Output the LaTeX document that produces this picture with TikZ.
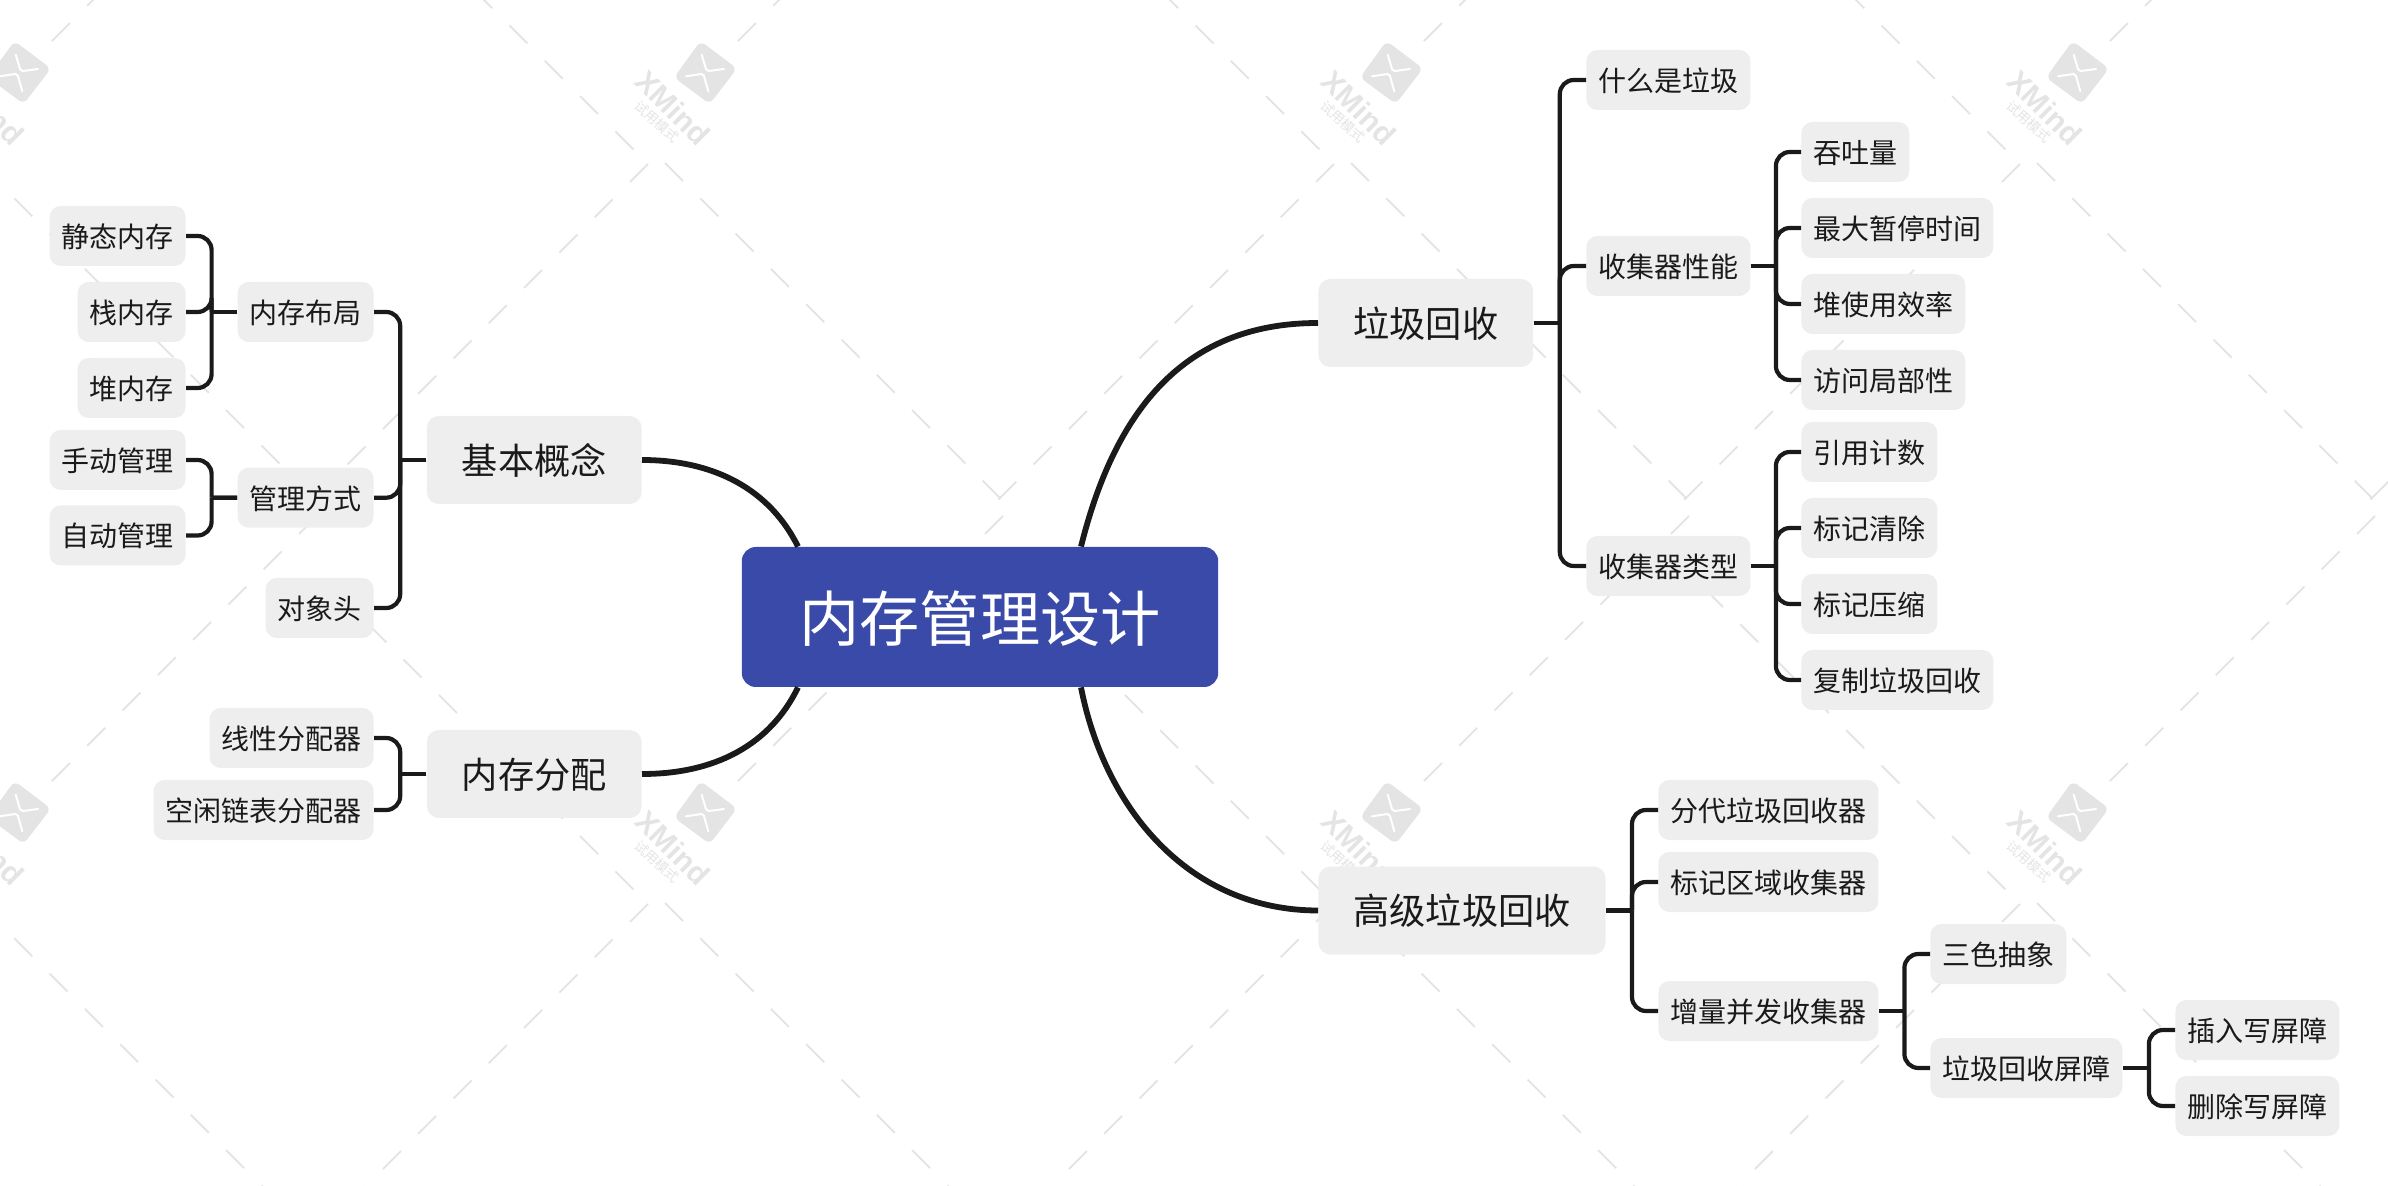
\documentclass[tikz,border=0pt]{standalone}
\usepackage{fontspec}
\setmainfont{Noto Sans CJK SC}
\newfontfamily\markfont{Liberation Sans}
\usetikzlibrary{calc}

\definecolor{boxgray}{HTML}{EEEEEE}
\definecolor{rootblue}{HTML}{3A4AA9}
\definecolor{inkdark}{HTML}{1A1A1A}
\definecolor{markgray}{HTML}{E4E4E4}

\tikzset{
  root/.style={fill=rootblue, text=white, rounded corners=7pt, font=\fontsize{30.1}{31}\selectfont,
    inner xsep=28.8pt, inner ysep=0pt, minimum height=70pt, text height=27.2pt, text depth=2.9pt},
  major/.style={fill=boxgray, text=inkdark, rounded corners=6pt, font=\fontsize{18.1}{19}\selectfont,
    inner xsep=17.5pt, inner ysep=0pt, minimum height=44pt, text height=16.2pt, text depth=1.9pt},
  minor/.style={fill=boxgray, text=inkdark, rounded corners=5.5pt, font=\fontsize{14}{15}\selectfont,
    inner xsep=6pt, inner ysep=0pt, minimum height=30pt, text height=12.7pt, text depth=1.2pt},
  bough/.style={draw=inkdark, line width=2.9pt},
  twig/.style={draw=inkdark, line width=2.1pt},
  dashmark/.style={draw=markgray, line width=1pt}
}

\begin{document}
\begin{tikzpicture}[x=0.5pt, y=-0.5pt]
  \useasboundingbox (0,0) rectangle (2388,1186);
  \clip (0,0) rectangle (2388,1186);

  % Watermark dashes
  \foreach \tx in {-667,19,705,1391,2077,2763} {
    \foreach \ty in {-667,73,813} {
      \begin{scope}[shift={(\tx,\ty)}]
        \foreach \k in {0,...,9} {
          \draw[dashmark] ({-40+35.3*\k},{90+35.3*\k}) -- ++(18,18);
          \draw[dashmark] ({-57-35.3*\k},{91+35.3*\k}) -- ++(-18,18);
        }
        \foreach \k in {0,...,7} {
          \draw[dashmark] ({298-35.3*\k},{443+35.3*\k}) -- ++(-18,18);
        }
        \foreach \k in {0,...,8} {
          \draw[dashmark] ({314+35.3*\k},{516+35.3*\k}) -- ++(18,18);
        }
      \end{scope}
    }
  }

  % Watermark logos
  \foreach \tx in {19,705,1391,2077} {
    \foreach \ty in {73,813} {
      \begin{scope}[shift={(\tx,\ty)}]
        \fill[markgray, rounded corners=3pt] (-4.5,-32) -- (32,-4.5) -- (4.7,31) -- (-31,4.5) -- cycle;
        \draw[white, line width=1pt, line cap=round, rounded corners=1pt] (-3.3,-18.3) -- (1.7,-1.7) -- (19,-4);
        \draw[white, line width=1pt, line cap=round, rounded corners=1pt] (-19,3.3) -- (-1.7,0.7) -- (3.3,18.3);
        \node[rotate=-45, text=markgray, font=\markfont\bfseries\fontsize{15}{15}\selectfont, inner sep=0pt]
          (xmind\tx\ty) at (-32,35) {XMind};
        \node[rotate=-42, text=markgray, font=\fontsize{6.8}{7}\selectfont, inner sep=0pt]
          (trial\tx\ty) at (-48,49) {试用模式};
      \end{scope}
    }
  }

  % Root and main topics
  \node[root] (design) at (980,617) {内存管理设计};
  \node[major, anchor=east] (concept) at (642,460) {基本概念};
  \node[major, anchor=east] (alloc) at (642,774) {内存分配};
  \node[major, anchor=west] (gc) at (1318,323) {垃圾回收};
  \node[major, anchor=west] (advgc) at (1318,910.5) {高级垃圾回收};

  % Left side topics
  \foreach \name/\x/\y/\label in {
    layout/374/312/内存布局, manage/374/497.7/管理方式, header/374/608/对象头,
    linear/374/738/线性分配器, freelist/374/810/空闲链表分配器,
    static/186/236/静态内存, stack/186/312/栈内存, heap/186/388/堆内存,
    manual/186/460/手动管理, auto/186/535.5/自动管理} {
    \node[minor, anchor=east] (\name) at (\x,\y) {\label};
  }

  % Right side topics
  \foreach \name/\x/\y/\label in {
    whatgc/1586/80/什么是垃圾, perf/1586/266/收集器性能, kinds/1586/566/收集器类型,
    through/1801/152/吞吐量, pause/1801/228/最大暂停时间, usage/1801/304/堆使用效率,
    local/1801/380/访问局部性, refcount/1801/452/引用计数, sweep/1801/528/标记清除,
    compact/1801/604/标记压缩, copying/1801/680/复制垃圾回收,
    genera/1658/810/分代垃圾回收器, region/1658/882/标记区域收集器, incr/1658/1011/增量并发收集器,
    tricolor/1930/954/三色抽象, barrier/1930/1068/垃圾回收屏障,
    insert/2175/1030/插入写屏障, delete/2175/1106/删除写屏障} {
    \node[minor, anchor=west] (\name) at (\x,\y) {\label};
  }

  % Curved boughs
  \draw[bough] ($(design.north)+(-182,0)$) .. controls (770,490) and (715,460) .. (concept.east);
  \draw[bough] ($(design.south)+(-182,0)$) .. controls (770,745) and (715,774) .. (alloc.east);
  \draw[bough] ($(design.north)+(101,0)$) .. controls (1120,390) and (1200,323) .. (gc.west);
  \draw[bough] ($(design.south)+(101,0)$) .. controls (1105,810) and (1190,910.5) .. (advgc.west);

  % Twigs to the left
  \foreach \from/\to in {concept/layout, concept/manage, concept/header, alloc/linear, alloc/freelist,
    layout/static, layout/stack, layout/heap, manage/manual, manage/auto} {
    \draw[twig] (\from.west) -- ($(\from.west)!0.5!(\from.west -| \to.east)$) coordinate (fork);
    \draw[twig, rounded corners=7pt] (fork) |- (\to.east);
  }

  % Twigs to the right
  \foreach \from/\to in {gc/whatgc, gc/perf, gc/kinds,
    perf/through, perf/pause, perf/usage, perf/local,
    kinds/refcount, kinds/sweep, kinds/compact, kinds/copying,
    advgc/genera, advgc/region, advgc/incr,
    incr/tricolor, incr/barrier, barrier/insert, barrier/delete} {
    \draw[twig] (\from.east) -- ($(\from.east)!0.5!(\from.east -| \to.west)$) coordinate (fork);
    \draw[twig, rounded corners=7pt] (fork) |- (\to.west);
  }
\end{tikzpicture}
\end{document}
